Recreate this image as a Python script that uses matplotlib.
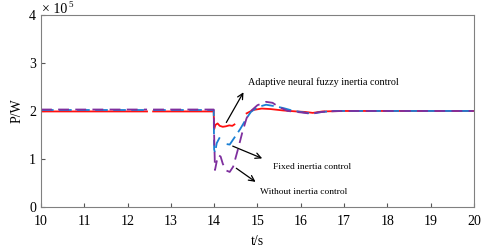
import numpy as np
import matplotlib.pyplot as plt

nan = np.nan

# adaptive neural fuzzy inertia control (red)
t_anf = [10, 12.45, 12.5, 12.59, 13.99, 14.0, 14.03, 14.08, 14.13, 14.2, 14.27, 14.35, 14.42, 14.47,
         14.6, 14.75, 14.9, 15.1, 15.3, 15.6, 15.9, 16.1, 16.28, 16.5, 17.0, 20.0]
p_anf = [1.99, 1.99, nan, 1.99, 1.99, 1.62, 1.71, 1.74, 1.69, 1.67, 1.68, 1.70, 1.69, 1.72,
         nan, 1.95, 2.02, 2.05, 2.04, 2.01, 1.99, 1.98, 1.96, 1.99, 2.0, 2.0]

# fixed inertia control (blue)
t_fix = [10, 12.45, 12.5, 12.59, 13.99, 14.0, 14.02, 14.06, 14.13, 14.2, 14.29, 14.36, 14.45, 14.6,
         14.75, 14.85, 15.0, 15.2, 15.4, 15.6, 15.8, 16.0, 16.2, 16.3, 16.5, 16.8, 17.5, 20.0]
p_fix = [2.02, 2.02, nan, 2.02, 2.02, 1.2, 1.13, 1.33, 1.45, nan, 1.31, 1.30, 1.42, 1.62,
         1.85, 1.98, 2.08, 2.13, 2.10, 2.06, 2.01, 1.98, 1.95, 1.95, 1.98, 2.0, 2.0, 2.0]

# without inertia control (purple)
t_no = [10, 12.45, 12.5, 12.59, 13.99, 14.0, 14.02, 14.06, 14.1, 14.15, 14.2, 14.28, 14.36, 14.44,
        14.55, 14.65, 14.75, 14.85, 15.0, 15.2, 15.35, 15.5, 15.7, 15.9, 16.1, 16.25, 16.4, 16.6, 17.0, 20.0]
p_no = [2.03, 2.03, nan, 2.03, 2.03, 1.5, 0.77, 0.95, 1.08, 1.05, 0.90, 0.76, 0.73, 0.84,
        1.2, 1.55, 1.85, 2.0, 2.12, 2.19, 2.17, 2.08, 2.0, 1.98, 1.96, 1.94, 1.97, 1.99, 2.0, 2.0]

plt.rcParams['font.family'] = ['Liberation Serif', 'DejaVu Serif']

fig = plt.figure(figsize=(4.84, 2.49), dpi=100)
ax = fig.add_axes([0.0847, 0.1687, 0.8943, 0.7713])

ax.plot(t_anf, p_anf, color='#ff1010', lw=1.3)
ax.plot(t_fix, p_fix, color='#1a7fd4', lw=1.3, dashes=(7, 3))
ax.plot(t_no, p_no, color='#7e2f9e', lw=1.3, dashes=(6, 3.5))

ax.set_xlim(10, 20)
ax.set_ylim(0, 4)
ax.set_xticks(range(10, 21))
ax.set_yticks(range(0, 5))
ax.tick_params(direction='in', length=3, labelsize=10, colors='#555555', labelcolor='black',
               top=False, right=False)
ax.tick_params(axis='x', pad=6)
for s in ax.spines.values():
    s.set_color('#808080')
    s.set_linewidth(0.8)

ax.set_xlabel('t/s', fontsize=10, labelpad=5)
ax.set_ylabel('P/W', fontsize=10, labelpad=4)
ax.annotate('× 10', xy=(0, 1), xycoords='axes fraction', xytext=(1, 1.5),
            textcoords='offset points', fontsize=10, ha='left', va='baseline')
ax.annotate('5', xy=(0, 1), xycoords='axes fraction', xytext=(19.5, 5.5),
            textcoords='offset points', fontsize=6.5, ha='left', va='baseline')

arrow = dict(arrowstyle='->', color='black', lw=0.9)
ax.annotate('', xy=(14.71, 2.44), xytext=(14.25, 1.71), arrowprops=arrow)
ax.text(14.78, 2.59, 'Adaptive neural fuzzy inertia control', fontsize=7.3, ha='left', va='center')
ax.annotate('', xy=(15.17, 0.99), xytext=(14.37, 1.29), arrowprops=arrow)
ax.text(15.36, 0.84, 'Fixed inertia control', fontsize=6.8, ha='left', va='center')
ax.annotate('', xy=(15.01, 0.49), xytext=(14.46, 0.84), arrowprops=arrow)
ax.text(15.06, 0.32, 'Without inertia control', fontsize=6.8, ha='left', va='center')

fig.savefig('out.png', dpi=100)
